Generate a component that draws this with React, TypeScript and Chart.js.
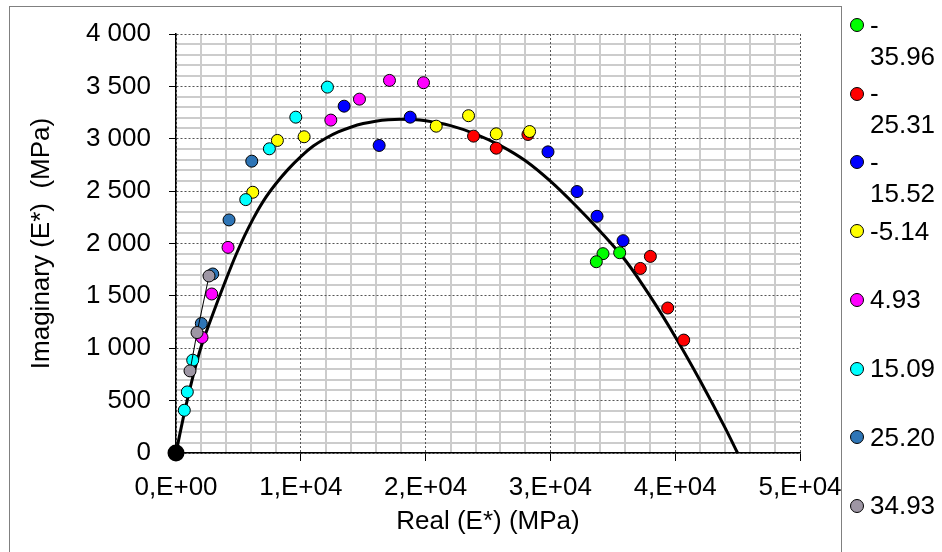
import React, { useEffect, useRef } from "react";
import { Chart, registerables } from "chart.js";

Chart.register(...registerables);

const FONT = "'Liberation Sans', Arial, Helvetica, sans-serif";

// Legend labels (test temperature, °C) and marker colours
const seriesLabels = ["-35.96", "-25.31", "-15.52", "-5.14", "4.93", "15.09", "25.20", "34.93"];
const seriesColors = ["#00ff00", "#ff0000", "#0000ff", "#ffff00", "#ff00ff", "#00ffff", "#2e75b6", "#9e96a4"];

// Real (E*) / Imaginary (E*) per series, MPa
const t3596Real = [34214, 33680, 35550];
const t3596Imag = [1903, 1826, 1912];

const t2531Real = [23841, 25662, 28200, 38011, 37209, 39400, 40682];
const t2531Imag = [3025, 2910, 3041, 1877, 1762, 1384, 1078];

const t1552Real = [13472, 18765, 16279, 29807, 32133, 33737, 35822];
const t1552Imag = [3311, 3206, 2936, 2875, 2496, 2260, 2027];

const t514Real = [20850, 23440, 10265, 8124, 6151, 25662, 28332];
const t514Imag = [3120, 3220, 3019, 2984, 2489, 3047, 3069];

const t493Real = [17105, 19832, 14700, 12406, 4170, 2863, 2085];
const t493Imag = [3557, 3535, 3378, 3178, 1963, 1518, 1103];

const t1509Real = [12134, 9598, 7482, 5590, 1339, 906, 666];
const t1509Imag = [3493, 3206, 2904, 2419, 886, 583, 408];

const t2520Real = [6070, 4250, 2943, 2029];
const t2520Imag = [2786, 2225, 1709, 1236];

const t3493Real = [1123, 1684, 2646];
const t3493Imag = [784, 1150, 1690];

// Fitted model curve (Cole-Cole plane)
const curveReal = [0, 300, 700, 1400, 2000, 2700, 3400, 4100, 4800, 5500, 6200, 7000, 8000, 9000, 10000, 11000, 12000, 13000, 14000, 15000, 16000, 17000, 18000, 19000, 20000, 22000, 24000, 26000, 28000, 30000, 32000, 34000, 36000, 38000, 40000, 42000, 44000, 45000];
const curveImag = [0, 175, 400, 750, 1010, 1245, 1470, 1685, 1890, 2075, 2240, 2405, 2570, 2710, 2830, 2930, 3005, 3065, 3110, 3145, 3168, 3182, 3187, 3184, 3172, 3125, 3045, 2935, 2790, 2595, 2365, 2115, 1840, 1495, 1110, 690, 240, 0];

const xTickValues = [0, 10000, 20000, 30000, 40000, 50000];
const yTickValues = [0, 500, 1000, 1500, 2000, 2500, 3000, 3500, 4000];

const seriesReal = [t3596Real, t2531Real, t1552Real, t514Real, t493Real, t1509Real, t2520Real, t3493Real];
const seriesImag = [t3596Imag, t2531Imag, t1552Imag, t514Imag, t493Imag, t1509Imag, t2520Imag, t3493Imag];

function sciLabel(v: number): string {
  if (v === 0) return "0,E+00";
  const e = Math.floor(Math.log10(Math.abs(v)) + 1e-9);
  const m = Math.round(v / Math.pow(10, e));
  return `${m},E+${String(e).padStart(2, "0")}`;
}

function thousandLabel(v: number): string {
  if (v >= 1000) {
    return `${Math.floor(v / 1000)} ${String(v % 1000).padStart(3, "0")}`;
  }
  return String(v);
}

export default function App() {
  const canvasRef = useRef<HTMLCanvasElement | null>(null);

  useEffect(() => {
    const canvas = canvasRef.current;
    if (!canvas) return;

    const pointSets = seriesLabels.map((label, i) => ({
      type: "scatter" as const,
      label,
      data: seriesReal[i].map((x, j) => ({ x, y: seriesImag[i][j] })),
      backgroundColor: seriesColors[i],
      pointBackgroundColor: seriesColors[i],
      pointBorderColor: "#000",
      borderColor: "#000",
      pointRadius: 6,
      pointBorderWidth: 1,
      pointHoverRadius: 6,
      borderWidth: 1,
      showLine: i === seriesLabels.length - 1,
      order: seriesLabels.length - i,
      clip: false,
      xAxisID: "x",
      yAxisID: "y",
    }));

    const curveSet = {
      type: "scatter" as const,
      label: "model",
      data: curveReal.map((x, j) => ({ x, y: curveImag[j] })),
      showLine: true,
      borderColor: "#000",
      borderWidth: 3,
      backgroundColor: "#000",
      pointBackgroundColor: "#000",
      pointBorderColor: "#000",
      pointRadius: (ctx: any) => (ctx.dataIndex === 0 ? 7 : 0),
      pointHoverRadius: (ctx: any) => (ctx.dataIndex === 0 ? 7 : 0),
      cubicInterpolationMode: "monotone" as const,
      order: 100,
      clip: false,
      xAxisID: "x",
      yAxisID: "y",
    };

    const chart = new Chart(canvas, {
      type: "scatter",
      data: { datasets: [...pointSets, curveSet] as any },
      options: {
        responsive: false,
        animation: false,
        maintainAspectRatio: false,
        layout: { padding: { left: 9, top: 34, right: 142, bottom: 0 } },
        plugins: {
          legend: { display: false },
          tooltip: { enabled: false },
        },
        scales: {
          xm: {
            type: "linear",
            position: "bottom",
            min: xTickValues[0],
            max: xTickValues[xTickValues.length - 1],
            ticks: { display: false, stepSize: 2000 },
            grid: {
              drawTicks: false,
              lineWidth: 2,
              z: -2,
              color: (ctx: any) => (ctx.tick && ctx.tick.value % 10000 === 0 ? "rgba(0,0,0,0)" : "#cccccc"),
            },
            border: { display: false },
            afterFit: (s: any) => { s.height = 0; },
          },
          x: {
            type: "linear",
            position: "bottom",
            min: xTickValues[0],
            max: xTickValues[xTickValues.length - 1],
            afterBuildTicks: (s: any) => { s.ticks = xTickValues.map((v) => ({ value: v })); },
            ticks: {
              color: "#000",
              font: { family: FONT, size: 26 },
              padding: 11,
              maxRotation: 0,
              autoSkip: false,
              callback: (v: any) => sciLabel(Number(v)),
            },
            grid: {
              color: "#555555",
              lineWidth: 1,
              tickLength: 8,
              tickColor: "#000",
              z: -1,
            },
            border: { display: true, color: "#000", width: 1.5, dash: [2, 2] },
            title: {
              display: true,
              text: "Real (E*) (MPa)",
              color: "#000",
              font: { family: FONT, size: 26 },
              padding: { top: 0, bottom: 14.4 },
            },
            afterFit: (s: any) => { s.height = 99; },
          },
          ym: {
            type: "linear",
            position: "left",
            min: yTickValues[0],
            max: yTickValues[yTickValues.length - 1],
            ticks: { display: false, stepSize: 100 },
            grid: {
              drawTicks: false,
              lineWidth: 2,
              z: -2,
              color: (ctx: any) => (ctx.tick && ctx.tick.value % 500 === 0 ? "rgba(0,0,0,0)" : "#cccccc"),
            },
            border: { display: false },
            afterFit: (s: any) => { s.width = 0; },
          },
          y: {
            type: "linear",
            position: "left",
            min: yTickValues[0],
            max: yTickValues[yTickValues.length - 1],
            afterBuildTicks: (s: any) => { s.ticks = yTickValues.map((v) => ({ value: v })); },
            ticks: {
              color: "#000",
              font: { family: FONT, size: 26 },
              padding: 18,
              autoSkip: false,
              callback: (v: any) => thousandLabel(Number(v)),
            },
            grid: {
              color: "#555555",
              lineWidth: 1,
              tickLength: 7,
              tickColor: "#000",
              z: -1,
            },
            border: { display: true, color: "#000", width: 1.5, dash: [2, 2] },
            title: {
              display: true,
              text: "Imaginary (E*)  (MPa)",
              color: "#000",
              font: { family: FONT, size: 26 },
              padding: { top: 17.4, bottom: 0 },
            },
            afterFit: (s: any) => { s.width = 167; },
          },
        },
      } as any,
    });

    return () => chart.destroy();
  }, []);

  const legendTop = 25;
  const legendStep = 68.7;

  return (
    <div
      style={{
        position: "fixed",
        left: 0,
        top: 0,
        width: 942,
        height: 552,
        overflow: "hidden",
        background: "#fff",
      }}
    >
      <canvas
        ref={canvasRef}
        width={942}
        height={552}
        style={{ position: "absolute", left: 0, top: 0, width: 942, height: 552 }}
      />
      <div
        style={{
          position: "absolute",
          left: 9,
          top: 6,
          width: 831,
          height: 560,
          borderLeft: "1px solid #808080",
          borderTop: "1px solid #808080",
          borderRight: "1px solid #808080",
          boxSizing: "content-box",
          pointerEvents: "none",
        }}
      />
      {seriesLabels.map((label, i) => {
        const cy = legendTop + i * legendStep;
        const lines = label.startsWith("-") && label.length > 5 ? ["-", label.slice(1)] : [label];
        return (
          <div
            key={label}
            style={{
              position: "absolute",
              left: 850,
              top: cy - 15.5,
              display: "flex",
              alignItems: "flex-start",
              fontFamily: FONT,
              fontSize: 26,
              lineHeight: "31px",
              color: "#000",
            }}
          >
            <div
              style={{
                width: 12,
                height: 12,
                marginTop: 8.5,
                borderRadius: "50%",
                border: "1px solid #000",
                background: seriesColors[i],
                flex: "none",
              }}
            />
            <div style={{ marginLeft: 6, whiteSpace: "nowrap" }}>
              {lines.map((t, k) => (
                <div key={k}>{t}</div>
              ))}
            </div>
          </div>
        );
      })}
    </div>
  );
}
